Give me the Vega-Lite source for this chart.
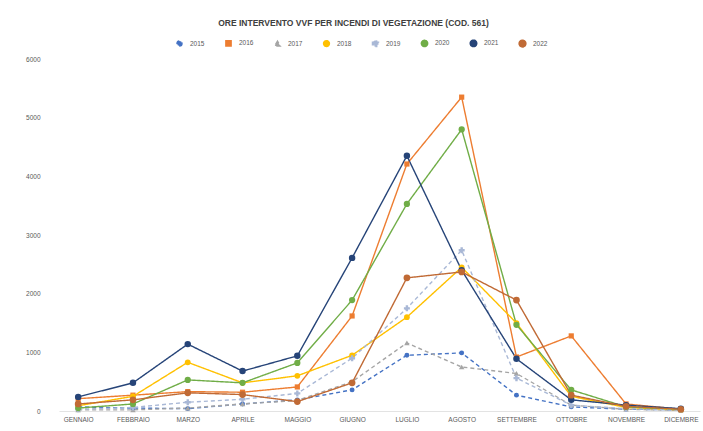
{
  "$schema": "https://vega.github.io/schema/vega-lite/v6.json",
  "width": 641,
  "height": 352,
  "autosize": {"type": "none"},
  "padding": {"left": 59, "top": 59, "right": 3, "bottom": 20},
  "background": "white",
  "config": {
    "view": {"stroke": null},
    "font": "Liberation Sans"
  },
  "title": {
    "text": "ORE INTERVENTO VVF PER INCENDI DI VEGETAZIONE (COD. 561)",
    "anchor": "middle",
    "baseline": "bottom",
    "offset": 3,
    "dx": -26,
    "fontSize": 8.5,
    "fontWeight": "bold",
    "color": "#404040"
  },
  "datasets": {
    "ore": [
      {"mese": "GENNAIO", "anno": "2015", "ore": 70},
      {"mese": "FEBBRAIO", "anno": "2015", "ore": 50},
      {"mese": "MARZO", "anno": "2015", "ore": 40},
      {"mese": "APRILE", "anno": "2015", "ore": 120},
      {"mese": "MAGGIO", "anno": "2015", "ore": 190},
      {"mese": "GIUGNO", "anno": "2015", "ore": 360},
      {"mese": "LUGLIO", "anno": "2015", "ore": 950},
      {"mese": "AGOSTO", "anno": "2015", "ore": 990},
      {"mese": "SETTEMBRE", "anno": "2015", "ore": 270},
      {"mese": "OTTOBRE", "anno": "2015", "ore": 70},
      {"mese": "NOVEMBRE", "anno": "2015", "ore": 30},
      {"mese": "DICEMBRE", "anno": "2015", "ore": 20},

      {"mese": "GENNAIO", "anno": "2016", "ore": 210},
      {"mese": "FEBBRAIO", "anno": "2016", "ore": 270},
      {"mese": "MARZO", "anno": "2016", "ore": 330},
      {"mese": "APRILE", "anno": "2016", "ore": 320},
      {"mese": "MAGGIO", "anno": "2016", "ore": 410},
      {"mese": "GIUGNO", "anno": "2016", "ore": 1620},
      {"mese": "LUGLIO", "anno": "2016", "ore": 4210},
      {"mese": "AGOSTO", "anno": "2016", "ore": 5350},
      {"mese": "SETTEMBRE", "anno": "2016", "ore": 920},
      {"mese": "OTTOBRE", "anno": "2016", "ore": 1280},
      {"mese": "NOVEMBRE", "anno": "2016", "ore": 120},
      {"mese": "DICEMBRE", "anno": "2016", "ore": 30},

      {"mese": "GENNAIO", "anno": "2017", "ore": 20},
      {"mese": "FEBBRAIO", "anno": "2017", "ore": 20},
      {"mese": "MARZO", "anno": "2017", "ore": 50},
      {"mese": "APRILE", "anno": "2017", "ore": 120},
      {"mese": "MAGGIO", "anno": "2017", "ore": 180},
      {"mese": "GIUGNO", "anno": "2017", "ore": 500},
      {"mese": "LUGLIO", "anno": "2017", "ore": 1160},
      {"mese": "AGOSTO", "anno": "2017", "ore": 750},
      {"mese": "SETTEMBRE", "anno": "2017", "ore": 640},
      {"mese": "OTTOBRE", "anno": "2017", "ore": 100},
      {"mese": "NOVEMBRE", "anno": "2017", "ore": 30},
      {"mese": "DICEMBRE", "anno": "2017", "ore": 10},

      {"mese": "GENNAIO", "anno": "2018", "ore": 90},
      {"mese": "FEBBRAIO", "anno": "2018", "ore": 250},
      {"mese": "MARZO", "anno": "2018", "ore": 830},
      {"mese": "APRILE", "anno": "2018", "ore": 480},
      {"mese": "MAGGIO", "anno": "2018", "ore": 600},
      {"mese": "GIUGNO", "anno": "2018", "ore": 950},
      {"mese": "LUGLIO", "anno": "2018", "ore": 1600},
      {"mese": "AGOSTO", "anno": "2018", "ore": 2450},
      {"mese": "SETTEMBRE", "anno": "2018", "ore": 1500},
      {"mese": "OTTOBRE", "anno": "2018", "ore": 250},
      {"mese": "NOVEMBRE", "anno": "2018", "ore": 60},
      {"mese": "DICEMBRE", "anno": "2018", "ore": 20},

      {"mese": "GENNAIO", "anno": "2019", "ore": 30},
      {"mese": "FEBBRAIO", "anno": "2019", "ore": 60},
      {"mese": "MARZO", "anno": "2019", "ore": 150},
      {"mese": "APRILE", "anno": "2019", "ore": 200},
      {"mese": "MAGGIO", "anno": "2019", "ore": 300},
      {"mese": "GIUGNO", "anno": "2019", "ore": 900},
      {"mese": "LUGLIO", "anno": "2019", "ore": 1750},
      {"mese": "AGOSTO", "anno": "2019", "ore": 2740},
      {"mese": "SETTEMBRE", "anno": "2019", "ore": 560},
      {"mese": "OTTOBRE", "anno": "2019", "ore": 100},
      {"mese": "NOVEMBRE", "anno": "2019", "ore": 40},
      {"mese": "DICEMBRE", "anno": "2019", "ore": 20},

      {"mese": "GENNAIO", "anno": "2020", "ore": 50},
      {"mese": "FEBBRAIO", "anno": "2020", "ore": 120},
      {"mese": "MARZO", "anno": "2020", "ore": 530},
      {"mese": "APRILE", "anno": "2020", "ore": 480},
      {"mese": "MAGGIO", "anno": "2020", "ore": 820},
      {"mese": "GIUGNO", "anno": "2020", "ore": 1890},
      {"mese": "LUGLIO", "anno": "2020", "ore": 3530},
      {"mese": "AGOSTO", "anno": "2020", "ore": 4800},
      {"mese": "SETTEMBRE", "anno": "2020", "ore": 1470},
      {"mese": "OTTOBRE", "anno": "2020", "ore": 360},
      {"mese": "NOVEMBRE", "anno": "2020", "ore": 70},
      {"mese": "DICEMBRE", "anno": "2020", "ore": 30},

      {"mese": "GENNAIO", "anno": "2021", "ore": 240},
      {"mese": "FEBBRAIO", "anno": "2021", "ore": 480},
      {"mese": "MARZO", "anno": "2021", "ore": 1140},
      {"mese": "APRILE", "anno": "2021", "ore": 680},
      {"mese": "MAGGIO", "anno": "2021", "ore": 940},
      {"mese": "GIUGNO", "anno": "2021", "ore": 2610},
      {"mese": "LUGLIO", "anno": "2021", "ore": 4350},
      {"mese": "AGOSTO", "anno": "2021", "ore": 2400},
      {"mese": "SETTEMBRE", "anno": "2021", "ore": 890},
      {"mese": "OTTOBRE", "anno": "2021", "ore": 190},
      {"mese": "NOVEMBRE", "anno": "2021", "ore": 100},
      {"mese": "DICEMBRE", "anno": "2021", "ore": 40},

      {"mese": "GENNAIO", "anno": "2022", "ore": 120},
      {"mese": "FEBBRAIO", "anno": "2022", "ore": 190},
      {"mese": "MARZO", "anno": "2022", "ore": 310},
      {"mese": "APRILE", "anno": "2022", "ore": 280},
      {"mese": "MAGGIO", "anno": "2022", "ore": 160},
      {"mese": "GIUGNO", "anno": "2022", "ore": 480},
      {"mese": "LUGLIO", "anno": "2022", "ore": 2270},
      {"mese": "AGOSTO", "anno": "2022", "ore": 2370},
      {"mese": "SETTEMBRE", "anno": "2022", "ore": 1890},
      {"mese": "OTTOBRE", "anno": "2022", "ore": 270},
      {"mese": "NOVEMBRE", "anno": "2022", "ore": 80},
      {"mese": "DICEMBRE", "anno": "2022", "ore": 30}
    ]
  },
  "data": {"name": "ore"},
  "encoding": {
    "x": {
      "field": "mese",
      "type": "ordinal",
      "sort": ["GENNAIO", "FEBBRAIO", "MARZO", "APRILE", "MAGGIO", "GIUGNO", "LUGLIO", "AGOSTO", "SETTEMBRE", "OTTOBRE", "NOVEMBRE", "DICEMBRE"],
      "scale": {"type": "point", "padding": 0.35},
      "axis": {
        "title": null,
        "labelAngle": 0,
        "labelFontSize": 6.5,
        "labelColor": "#595959",
        "labelPadding": 5,
        "ticks": false,
        "domain": true,
        "domainColor": "#E3E3E3",
        "grid": false
      }
    },
    "y": {
      "field": "ore",
      "type": "quantitative",
      "scale": {"domain": [0, 6000], "nice": false},
      "axis": {
        "title": null,
        "values": [0, 1000, 2000, 3000, 4000, 5000, 6000],
        "format": "d",
        "labelFontSize": 6.5,
        "labelColor": "#595959",
        "labelPadding": 19,
        "ticks": false,
        "domain": false,
        "grid": false
      }
    },
    "color": {
      "field": "anno",
      "type": "nominal",
      "scale": {
        "domain": ["2015", "2016", "2017", "2018", "2019", "2020", "2021", "2022"],
        "range": ["#4472C4", "#ED7D31", "#A5A5A5", "#FFC000", "#A9B8D6", "#70AD47", "#264478", "#C06A35"]
      },
      "legend": {
        "orient": "none",
        "legendX": 116,
        "legendY": -20,
        "direction": "horizontal",
        "columns": 8,
        "title": null,
        "labelFontSize": 6.5,
        "labelColor": "#595959",
        "symbolSize": 30,
        "symbolOffset": 0,
        "labelOffset": 6,
        "columnPadding": 17
      }
    }
  },
  "layer": [
    {
      "mark": {"type": "line", "strokeWidth": 1.4},
      "encoding": {
        "strokeDash": {
          "field": "anno",
          "type": "nominal",
          "legend": null,
          "scale": {
            "domain": ["2015", "2016", "2017", "2018", "2019", "2020", "2021", "2022"],
            "range": [[4, 3], [1, 0], [4, 3], [1, 0], [4, 3], [1, 0], [1, 0], [1, 0]]
          }
        }
      }
    },
    {
      "mark": {"type": "point", "filled": true, "opacity": 1},
      "encoding": {
        "shape": {
          "field": "anno",
          "type": "nominal",
          "scale": {
            "domain": ["2015", "2016", "2017", "2018", "2019", "2020", "2021", "2022"],
            "range": ["circle", "square", "triangle-up", "circle", "cross", "circle", "circle", "circle"]
          }
        },
        "size": {
          "field": "anno",
          "type": "nominal",
          "legend": null,
          "scale": {
            "domain": ["2015", "2016", "2017", "2018", "2019", "2020", "2021", "2022"],
            "range": [24, 45, 28, 0, 18, 12, 18, 6]
          }
        }
      }
    }
  ],
  "resolve": {"legend": {"color": "shared"}},
  "view": {"stroke": null}
}
